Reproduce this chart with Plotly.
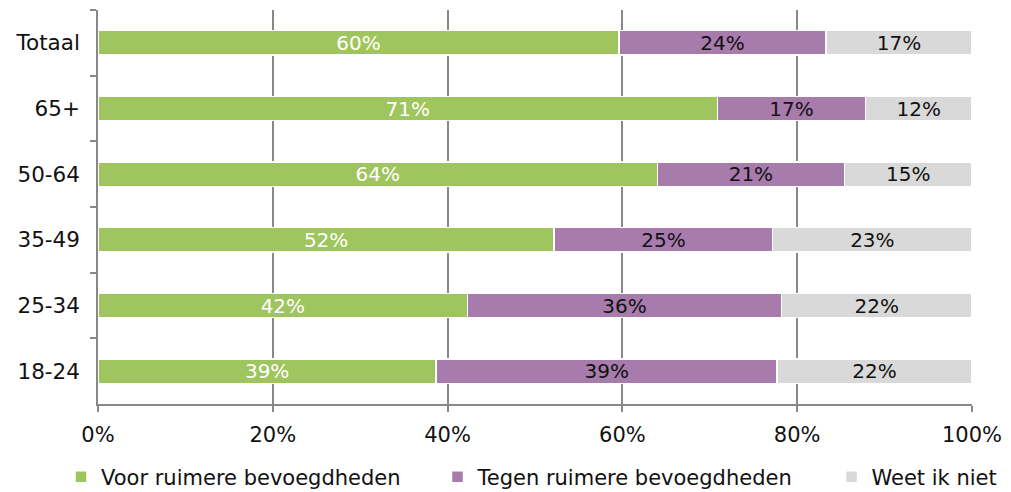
import plotly.graph_objects as go

categories = ["Totaal", "65+", "50-64", "35-49", "25-34", "18-24"]
voor = [59.6, 70.9, 64.0, 52.2, 42.3, 38.7]
tegen = [23.7, 16.9, 21.4, 25.0, 35.9, 39.0]
weet = [16.7, 12.2, 14.6, 22.8, 21.8, 22.3]
series_names = ["Voor ruimere bevoegdheden", "Tegen ruimere bevoegdheden", "Weet ik niet"]
colors = ["#9FC55E", "#A87BAD", "#D9D9D9"]
text_colors = ["white", "#111111", "#111111"]
x_ticks = [0, 20, 40, 60, 80, 100]
x_tick_labels = ["0%", "20%", "40%", "60%", "80%", "100%"]

FONT = "Verdana, DejaVu Sans, sans-serif"
# the page body has an 8px default margin, so the figure is sized to fit the window
W, H = 1003, 484

legend_ids = ["legend", "legend2", "legend3"]
legend_left_px = [53, 429.5, 823.5]

fig = go.Figure()
for name, vals, col, tcol, lid in zip(series_names, [voor, tegen, weet], colors, text_colors, legend_ids):
    fig.add_trace(go.Bar(
        y=categories, x=vals, name=name, orientation="h",
        marker=dict(color=col, line=dict(color="white", width=1.5)),
        texttemplate="%{x:.0f}%", textposition="inside", insidetextanchor="middle",
        textangle=0, constraintext="none",
        insidetextfont=dict(color=tcol, size=20, family=FONT),
        hoverinfo="skip", legend=lid,
    ))

legend_common = dict(orientation="h", xref="container", yref="container",
                     xanchor="left", yanchor="middle", y=(H - 469) / H,
                     font=dict(size=21), itemclick=False, bgcolor="rgba(0,0,0,0)")

fig.update_layout(
    barmode="stack", bargap=0.63,
    width=W, height=H,
    margin=dict(l=90, r=39, t=2, b=88, autoexpand=False),
    paper_bgcolor="white", plot_bgcolor="white",
    font=dict(family=FONT, size=21, color="#111111"),
    showlegend=True,
    legend=dict(x=legend_left_px[0] / W, **legend_common),
    legend2=dict(x=legend_left_px[1] / W, **legend_common),
    legend3=dict(x=legend_left_px[2] / W, **legend_common),
)
fig.update_xaxes(range=[0, 100], tickvals=x_ticks, ticktext=x_tick_labels,
                 showgrid=True, gridcolor="#888888", gridwidth=1.5,
                 showline=True, linecolor="#888888", linewidth=1.5,
                 ticks="outside", ticklen=6, tickcolor="#888888", tickwidth=1.5,
                 ticklabelstandoff=5, tickfont=dict(size=21),
                 zeroline=False, fixedrange=True, automargin=False)
fig.update_yaxes(autorange="reversed", tickson="boundaries",
                 showgrid=False, showline=True, linecolor="#888888", linewidth=1.5,
                 ticks="outside", ticklen=6, tickcolor="#888888", tickwidth=1.5,
                 ticklabelstandoff=12, tickfont=dict(size=21.5),
                 fixedrange=True, automargin=False)

fig.write_html("out.html")
